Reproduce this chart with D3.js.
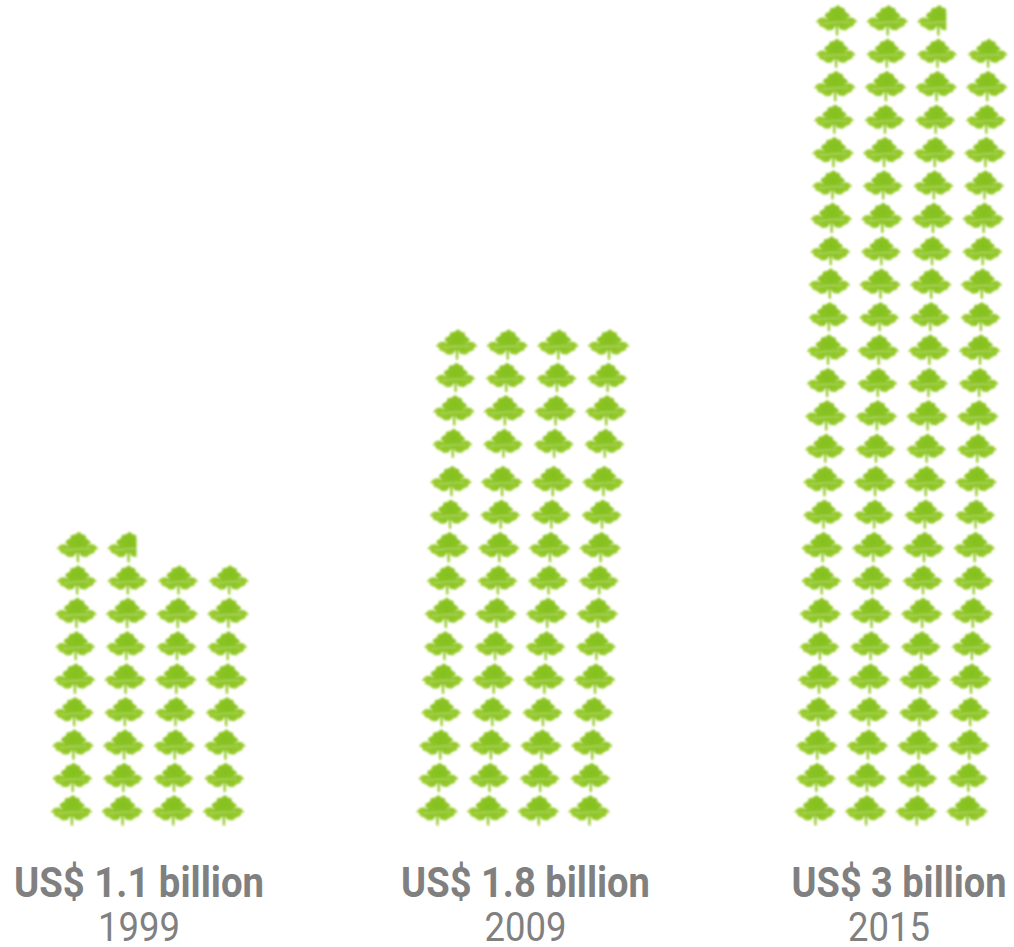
<!DOCTYPE html>
<html>
<head>
<meta charset="utf-8">
<script src="https://cdn.jsdelivr.net/npm/d3@7"></script>
<style>
html,body{margin:0;padding:0;background:#fff}
svg{display:block}
text{font-family:Roboto,sans-serif;fill:#808080}
</style>
</head>
<body>
<div id="chart"></div>
<script>
// Export values, one pictogram stack per year
const years = ["1999", "2009", "2015"];
const billions = [1.1, 1.8, 3];
const leafCounts = [33.7, 60, 98.7];

const columnsPerRow = 4;
const W = 1014, H = 947;

// Stack geometry per year: foot of the first column, lean per row, gap in the upper rows
const stackBaseX = [71.5, 437, 815];
const stackLean = [0.75, 1.4, 0.9];
const labelCenterX = [139, 525.5, 899];
const yearCenterX = [139, 525.5, 889];
const breakAboveRow = [null, 10, null];
const breakSize = 5;

// Outline of the vine leaf glyph, in its own unit space
const leafOutline = [
  [1.5,-16],[4.5,-13.5],[8,-12.5],[8.5,-9.5],[12,-7],[13.5,-5],[8.5,-1.5],[13,-3.5],[17,-3],[19,-1],[21,1],
  [18,2],[17,5],[13,6.5],[9,9.5],[3.5,8.5],[1.5,4.5],[1.7,14.5],[-0.7,14.5],[-1,4.5],[-4,9],[-9,9.5],
  [-13,6.5],[-17,5],[-18,2],[-21,1],[-19,-1],[-17,-3],[-13,-3.5],[-8.5,-1.5],[-12,-5],[-11,-7.5],
  [-7,-9.5],[-6.5,-12.5],[-2,-13.5]
];
const leafLine = d3.line().curve(d3.curveLinearClosed);
const veinLine = d3.line().curve(d3.curveBasis);

const svg = d3.select("#chart").append("svg").attr("width", W).attr("height", H);
const defs = svg.append("defs");

const soft = defs.append("filter").attr("id", "soft")
  .attr("x", "-5%").attr("y", "-5%").attr("width", "110%").attr("height", "110%");
soft.append("feGaussianBlur").attr("stdDeviation", 0.8);

const fill = defs.append("radialGradient").attr("id", "leafFill")
  .attr("gradientUnits", "userSpaceOnUse").attr("cx", 1).attr("cy", -6).attr("r", 22);
fill.append("stop").attr("offset", "0%").attr("stop-color", "#84c01e");
fill.append("stop").attr("offset", "55%").attr("stop-color", "#8fc626");
fill.append("stop").attr("offset", "100%").attr("stop-color", "#a2d034");

const rowY = d3.scaleLinear().domain([0, 24]).range([811, 21]);
const columnX = d3.scaleLinear().domain([0, columnsPerRow - 1]).range([0, 152]);
const rowScale = d3.scaleOrdinal().domain([0, 1]).range([1, 0.96]);

leafCounts.forEach((count, g) => {
  const whole = Math.ceil(count);
  const leaves = d3.range(whole).map(i => ({
    row: Math.floor(i / columnsPerRow),
    col: i % columnsPerRow,
    share: Math.min(1, count - i)
  }));
  const group = svg.append("g").attr("class", "stack").attr("filter", "url(#soft)");

  const leaf = group.selectAll("g.leaf").data(leaves).join("g")
    .attr("class", "leaf")
    .attr("transform", d => {
      const lift = breakAboveRow[g] !== null && d.row > breakAboveRow[g] ? breakSize : 0;
      const x = stackBaseX[g] + stackLean[g] * d.row + columnX(d.col);
      const s = rowScale(d.row % 2);
      return `translate(${x},${rowY(d.row) - lift}) scale(${s})`;
    });

  leaf.filter(d => d.share < 1).each(function (d, i) {
    const id = `cut-${g}-${i}`;
    defs.append("clipPath").attr("id", id).append("rect")
      .attr("x", -21).attr("y", -18).attr("width", 42 * d.share).attr("height", 34);
    d3.select(this).attr("clip-path", `url(#${id})`);
  });

  leaf.append("path").attr("d", leafLine(leafOutline)).attr("fill", "url(#leafFill)");
  leaf.append("path")
    .attr("d", veinLine([[-13, 2], [-6, 2], [0, 1], [6, 1], [13, 1]]))
    .attr("fill", "none").attr("stroke", "#cfe69a").attr("stroke-width", 1).attr("opacity", 0.7);
});

// Captions use Roboto squeezed horizontally to the condensed measure of the original type
const valueWidths = [250, 249, 215];
const captions = (cls, rows, size, weight, baseline, centers, widths) => {
  svg.selectAll(`text.${cls}`).data(rows).join("text")
    .attr("class", cls)
    .attr("text-anchor", "middle")
    .attr("font-size", size).attr("font-weight", weight)
    .text(d => d)
    .attr("transform", function (d, i) {
      const sx = widths[i] / this.getComputedTextLength();
      return `translate(${centers[i]},${baseline}) scale(${sx},1)`;
    });
};
captions("value", billions.map(b => `US$ ${b} billion`), 42, 700, 897, labelCenterX, valueWidths);
captions("year", years, 40, 400, 941, yearCenterX, years.map(() => 82));
</script>
</body>
</html>
